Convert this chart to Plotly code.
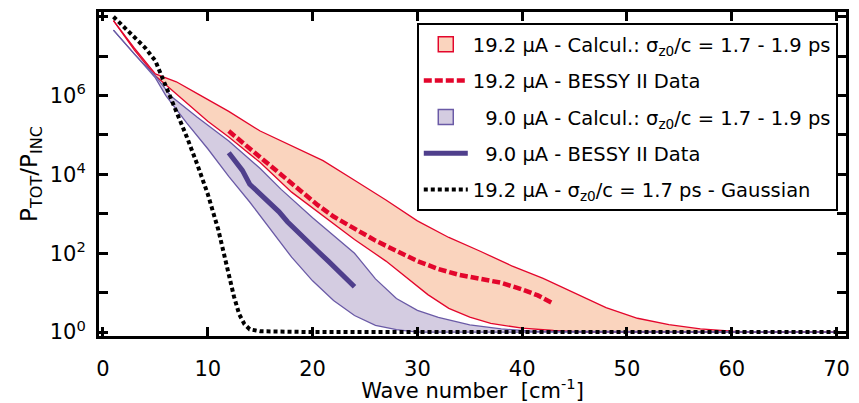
import numpy as np
import plotly.graph_objects as go

# ---------------- data (y given as log10 values) ----------------
x_red_hi = [1, 3, 5, 6, 7, 9, 12, 15, 18, 21, 24, 27, 30, 33, 36, 39, 42, 45, 48, 51, 54, 57, 60, 62, 70]
log_red_hi = [7.9, 7.2, 6.55, 6.46, 6.35, 6.05, 5.6, 5.1, 4.72, 4.35, 3.85, 3.35, 2.82, 2.4, 2.05, 1.68,
              1.36, 1.0, 0.62, 0.35, 0.19, 0.08, 0.02, 0.0, 0.0]

x_red_lo = [1, 3, 5, 7, 10, 12, 15, 18, 21, 24, 27, 29, 31, 33, 35, 37, 40, 43, 46, 70]
log_red_lo = [7.9, 7.15, 6.5, 6.05, 5.35, 4.95, 4.3, 3.55, 2.95, 2.35, 1.8, 1.38, 0.95, 0.6, 0.38, 0.22,
              0.1, 0.04, 0.0, 0.0]

x_pur_hi = [1, 3, 5, 6.5, 9, 12, 15, 17, 20, 22, 24, 26, 28, 30, 32, 35, 38, 41, 70]
log_pur_hi = [7.66, 7.05, 6.5, 5.98, 5.45, 4.85, 4.15, 3.62, 2.9, 2.45, 2.0, 1.35, 0.85, 0.55, 0.37,
              0.18, 0.08, 0.02, 0.0]

x_pur_lo = [1, 3, 5, 6, 8, 10, 12, 14, 16, 18, 20, 22, 24, 26, 28, 30, 70]
log_pur_lo = [7.66, 7.05, 6.45, 6.0, 5.3, 4.65, 3.95, 3.3, 2.6, 1.9, 1.3, 0.8, 0.42, 0.17, 0.06, 0.0, 0.0]

x_red_data = [12, 13, 14.5, 16, 17.5, 19, 20.5, 22, 24, 26, 28, 30, 32, 34, 36, 38, 40, 41.5, 43]
log_red_data = [5.1, 4.88, 4.55, 4.22, 3.9, 3.55, 3.22, 2.93, 2.62, 2.32, 2.06, 1.8, 1.6, 1.45, 1.35,
                1.25, 1.08, 0.93, 0.72]

x_pur_data = [12, 12.6, 13.3, 14, 14.6, 15.3, 16, 16.8, 17.6, 18.5, 19.5, 20.5, 21.5, 22.5, 23.5, 24]
log_pur_data = [4.55, 4.35, 4.1, 3.75, 3.6, 3.45, 3.28, 3.05, 2.8, 2.58, 2.3, 2.05, 1.8, 1.55, 1.3, 1.15]

x_gauss = [1, 2, 3, 4, 5, 6, 7, 8, 9, 10, 11, 12, 12.5, 13, 13.5, 14, 15, 20, 30, 40, 50, 60, 70]
log_gauss = [8.0, 7.75, 7.5, 7.22, 6.88, 6.25, 5.6, 4.95, 4.25, 3.5, 2.6, 1.45, 0.9, 0.45, 0.2, 0.07,
             0.02, 0.0, 0.0, 0.0, 0.0, 0.0, 0.0]

x_ticks = [0, 10, 20, 30, 40, 50, 60, 70]
y_ticks = [1e0, 1e1, 1e2, 1e3, 1e4, 1e5, 1e6, 1e7, 1e8]
y_ticktext = ["10<sup>0</sup>", "", "10<sup>2</sup>", "", "10<sup>4</sup>", "", "10<sup>6</sup>", "", ""]

names = [
    "19.2 μA - Calcul.: σ<sub>z0</sub>/c = 1.7 - 1.9 ps",
    "19.2 μA - BESSY II Data",
    "\u20079.0 μA - Calcul.: σ<sub>z0</sub>/c = 1.7 - 1.9 ps",
    "\u20079.0 μA - BESSY II Data",
    "19.2 μA - σ<sub>z0</sub>/c = 1.7 ps - Gaussian",
]

RED = "#E3062C"
RED_FILL = "#FAD4BE"
PUR = "#6A5AA6"
PUR_FILL = "#D4CCE1"
PUR_DATA = "#4F3F8C"


def p(v):
    return 10 ** np.array(v)


fig = go.Figure()

# bands (drawn first, legend handled by box entries below)
fig.add_trace(go.Scatter(x=x_red_lo, y=p(log_red_lo), mode="lines", line=dict(color=RED, width=1.3),
                         showlegend=False, hoverinfo="skip"))
fig.add_trace(go.Scatter(x=x_red_hi, y=p(log_red_hi), mode="lines", line=dict(color=RED, width=1.3),
                         fill="tonexty", fillcolor=RED_FILL, showlegend=False))
fig.add_trace(go.Scatter(x=x_pur_lo, y=p(log_pur_lo), mode="lines", line=dict(color=PUR, width=1.3),
                         showlegend=False, hoverinfo="skip"))
fig.add_trace(go.Scatter(x=x_pur_hi, y=p(log_pur_hi), mode="lines", line=dict(color=PUR, width=1.3),
                         fill="tonexty", fillcolor=PUR_FILL, showlegend=False))

# legend entries (box symbols for the calculated bands)
fig.add_trace(go.Scatter(x=[None], y=[None], mode="markers", name=names[0], legendgroup="g1",
                         marker=dict(symbol="square", size=15, color=RED_FILL, line=dict(color=RED, width=1.5))))
fig.add_trace(go.Scatter(x=x_red_data, y=p(log_red_data), mode="lines",
                         line=dict(color=RED, width=4.5, dash="8px,3px"), name=names[1], legendgroup="g2"))
fig.add_trace(go.Scatter(x=[None], y=[None], mode="markers", name=names[2], legendgroup="g3",
                         marker=dict(symbol="square", size=15, color=PUR_FILL, line=dict(color=PUR, width=1.5))))
fig.add_trace(go.Scatter(x=x_pur_data, y=p(log_pur_data), mode="lines",
                         line=dict(color=PUR_DATA, width=5), name=names[3], legendgroup="g4"))
fig.add_trace(go.Scatter(x=x_gauss, y=p(log_gauss), mode="lines",
                         line=dict(color="black", width=4, dash="4px,3px"), name=names[4], legendgroup="g5"))

axis_common = dict(
    showline=True, linewidth=3, linecolor="black", mirror="ticks",
    ticks="inside", ticklen=9, tickwidth=2.5, tickcolor="black",
    showgrid=False, zeroline=False,
    tickfont=dict(size=21, color="black"),
)

# the page body adds an 8 px offset, so the figure is 8 px smaller than the window
fig.update_layout(
    width=851, height=395,
    margin=dict(l=91, r=13, t=1, b=67),
    paper_bgcolor="white", plot_bgcolor="white",
    font=dict(family="DejaVu Sans", size=21, color="black"),
    legend=dict(
        x=0.989, y=0.966, xanchor="right", yanchor="top",
        bordercolor="black", borderwidth=2, bgcolor="white",
        font=dict(size=19.5, color="black"),
        traceorder="grouped", tracegroupgap=8, itemwidth=44,
    ),
    xaxis=dict(range=[-0.38, 70.9], tickvals=x_ticks,
               title=dict(text="Wave number \u00a0[cm<sup>-1</sup>]", font=dict(size=21), standoff=0),
               ticklabelstandoff=12, **axis_common),
    yaxis=dict(type="log", range=[-0.1, 8.12], tickvals=y_ticks, ticktext=y_ticktext,
               title=dict(text="P<sub>TOT</sub>/P<sub>INC</sub>", font=dict(size=23), standoff=6),
               ticklabelstandoff=6, **axis_common),
)

fig.write_html("out.html")
